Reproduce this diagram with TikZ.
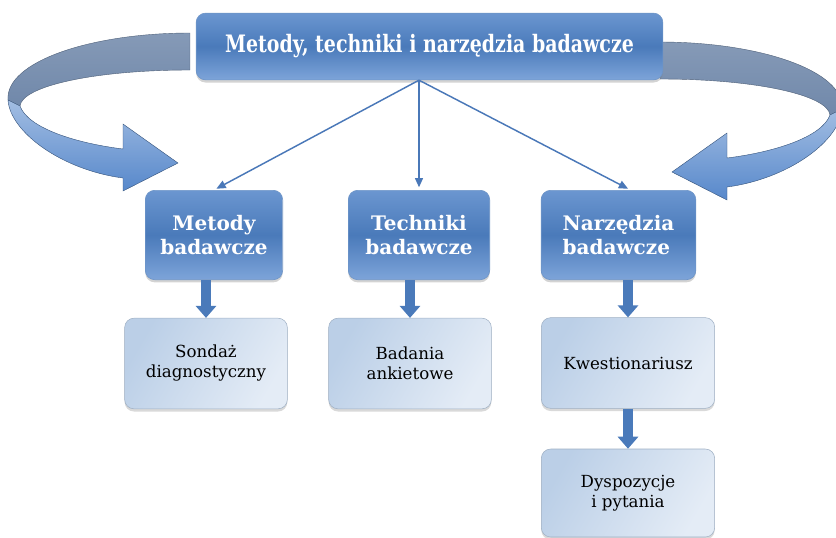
\documentclass[tikz,border=0pt]{standalone}
\usepackage{fontspec}
\setmainfont{DejaVu Serif}
\usetikzlibrary{arrows.meta,positioning,shadows}
\definecolor{boxblue}{HTML}{4A7ABA}
\definecolor{boxtop}{HTML}{6B96D0}
\definecolor{boxlow}{HTML}{7DA4D9}
\definecolor{paleblue}{HTML}{E4ECF6}
\definecolor{paleedge}{HTML}{BBCFE7}
\definecolor{ribbonback}{HTML}{7088AA}
\definecolor{ribbonfront}{HTML}{5788CB}
\definecolor{linkblue}{HTML}{4A78B8}
\tikzset{
  headbox/.style={draw=boxblue!80!white,line width=.5pt,rounded corners=7pt,
    top color=boxtop,bottom color=boxlow,middle color=boxblue,
    drop shadow={opacity=.35,shadow xshift=0pt,shadow yshift=-2pt},
    text=white,font=\bfseries,align=center},
  leafbox/.style={draw=paleedge!85!black,line width=.4pt,rounded corners=7pt,
    left color=paleedge,right color=paleblue,shading angle=60,
    drop shadow={opacity=.3,shadow xshift=0pt,shadow yshift=-2pt},
    font=\fontsize{12.5}{15}\selectfont,align=center,
    minimum width=122pt,minimum height=68pt},
  link/.style={draw=linkblue,line width=1.1pt,-{Triangle[length=7pt,width=6pt]},shorten >=2pt},
  blockarrow/.style={draw=boxblue,line width=7pt,-{Triangle[length=9pt,width=15pt]}}
}

\begin{document}
\begin{tikzpicture}[x=.75pt,y=-.75pt]
\useasboundingbox (0,0) rectangle (836,537);

% curved ribbons, left one first, right one mirrored
\foreach \sx/\dx/\dy in {1/0/0,-1/850/9}{
\begin{scope}[shift={(\dx,\dy)},xscale=\sx]
 \shade[top color=ribbonback!85!white,bottom color=ribbonback,draw=ribbonback!70!black,line width=.3pt]
  (190,33) .. controls (90,33) and (5,62) .. (8,100)
  -- (20,106) .. controls (22,86) and (95,70) .. (190,70) -- cycle;
 \shade[top color=ribbonfront!55!white,bottom color=ribbonfront,draw=ribbonfront!60!black,line width=.3pt]
  (8,100) .. controls (10,132) and (62,170) .. (123,178)
  -- (123,191) -- (178,163) -- (123,124) -- (123,149)
  .. controls (75,143) and (28,128) .. (20,106) -- cycle;
\end{scope}
}

% main box
\node[headbox,minimum width=350pt,minimum height=50pt] (top) at (429.5,46.5)
  {\raisebox{3pt}{\scalebox{.79}[1]{\fontsize{18}{21}\selectfont Metody, techniki i narzędzia badawcze}}};

% second level
\node[headbox,minimum width=103pt,minimum height=67pt,font=\bfseries\fontsize{15}{17.5}\selectfont] (metody) at (214,235) {Metody\\badawcze};
\node[headbox,minimum width=106pt,minimum height=67pt,font=\bfseries\fontsize{15}{17.5}\selectfont] (techniki) at (419,235) {Techniki\\badawcze};
\node[headbox,minimum width=116pt,minimum height=67pt,font=\bfseries\fontsize{15}{17.5}\selectfont,align=left] (narzedzia) at (618.5,235) {Narzędzia\\badawcze};

% third level
\node[leafbox] (sondaz) at (206,363.5) {Sondaż\\diagnostyczny};
\node[leafbox] (badania) at (410,363.5) {Badania\\ankietowe};
\node[leafbox,minimum width=130pt] (kwest) at (628,363) {Kwestionariusz};
\node[leafbox,minimum width=130pt,minimum height=66pt] (dysp) at (628,493) {Dyspozycje\\i pytania};

% links from the main box
\coordinate (hub) at (techniki.north |- top.south);
\draw[link] (hub) -- (metody.north);
\draw[link] (hub) -- (techniki.north);
\draw[link] (hub) -- ([xshift=9pt]narzedzia.north);

% short block arrows
\draw[blockarrow] (sondaz.north |- metody.south) -- (sondaz.north);
\draw[blockarrow] (badania.north |- techniki.south) -- (badania.north);
\draw[blockarrow] (kwest.north |- narzedzia.south) -- (kwest.north);
\draw[blockarrow] (kwest.south) -- (dysp.north);
\end{tikzpicture}
\end{document}
